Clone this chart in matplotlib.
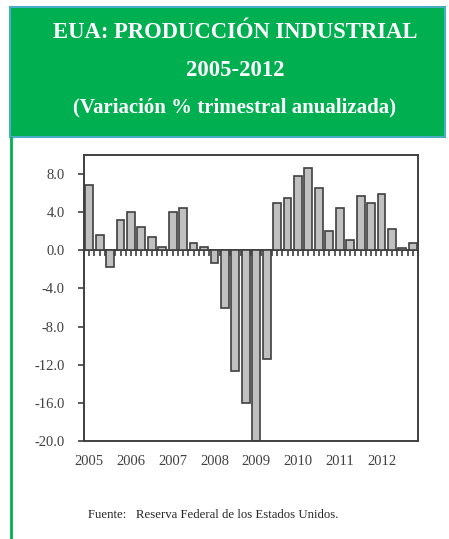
import numpy as np
import matplotlib
matplotlib.use("Agg")
import matplotlib.pyplot as plt
from matplotlib.patches import Rectangle
from matplotlib.lines import Line2D

# ---- data ----
years = ["2005", "2006", "2007", "2008", "2009", "2010", "2011", "2012"]
values = [6.9, 1.6, -1.75, 3.2,
          4.0, 2.5, 1.45, 0.4,
          4.0, 4.4, 0.8, 0.35,
          -1.3, -6.0, -12.7, -16.0,
          -20.0, -11.4, 5.0, 5.45,
          7.75, 8.6, 6.5, 2.07,
          4.4, 1.05, 5.65, 5.0,
          5.86, 2.28, 0.25, 0.8]
yticks = [-20, -16, -12, -8, -4, 0, 4, 8]
ytick_labels = ["-20.0", "-16.0", "-12.0", "-8.0", "-4.0", "0.0", "4.0", "8.0"]
title_lines = ["EUA: PRODUCCIÓN INDUSTRIAL", "2005-2012", "(Variación % trimestral anualizada)"]
source = "Fuente:   Reserva Federal de los Estados Unidos."

GREEN = "#00B050"
TEAL = "#4BACC6"
DARK = "#404040"
SERIF = ["Liberation Serif", "DejaVu Serif"]

fig = plt.figure(figsize=(4.49, 5.39), dpi=100)

# header box
fig.patches.append(Rectangle((0.0223, 0.7458), 0.969, 0.2412, transform=fig.transFigure,
                             facecolor=GREEN, edgecolor=TEAL, linewidth=1.5, zorder=0))
# left green line
fig.lines.append(Line2D([0.0235, 0.0235], [0.0, 0.7445], transform=fig.transFigure,
                        color=GREEN, linewidth=2))

ys = [0.9388, 0.870, 0.8015]
sizes = [16.3, 16.3, 15.0]
for t, y, fs in zip(title_lines, ys, sizes):
    fig.text(0.523, y, t, ha="center", va="center", color="white",
             fontsize=fs, fontweight="bold", family=SERIF)

fig.text(0.196, 0.0445, source, ha="left", va="center", color="#262626",
         fontsize=9.2, family=SERIF)

ax = fig.add_axes([0.187, 0.1818, 0.744, 0.5306])
n = len(values)
x = np.arange(n)
ax.bar(x, values, width=0.75, color="#C0C0C0", edgecolor=DARK, linewidth=1.2, zorder=2)
ax.set_xlim(-0.5, n - 0.5)
ymin, ymax = -20, 10
ax.set_ylim(ymin, ymax)

for s in ax.spines.values():
    s.set_color(DARK)
    s.set_linewidth(1.4)

ax.set_yticks(yticks)
ax.set_yticklabels(ytick_labels)
ax.tick_params(axis="y", direction="out", length=4, width=1.2, color=DARK,
               labelcolor=DARK, labelsize=10.5, pad=10)
ax.set_xticks(x[::4])
ax.set_xticklabels(years)
ax.tick_params(axis="x", length=0, labelcolor=DARK, labelsize=10.5, pad=10)
for lab in ax.get_xticklabels() + ax.get_yticklabels():
    lab.set_family(SERIF)

# zero line with small tick marks
zero_frac = (0 - ymin) / (ymax - ymin)
sec = ax.secondary_xaxis(zero_frac)
sec.set_alignment("bottom")
sec.spines["bottom"].set_color(DARK)
sec.spines["bottom"].set_linewidth(1.4)
sec.set_xticks(np.arange(-0.5, n, 0.5))
sec.tick_params(axis="x", direction="out", length=4, width=1.2, color=DARK,
                labelbottom=False, labeltop=False)

fig.savefig("out.png", dpi=100)
